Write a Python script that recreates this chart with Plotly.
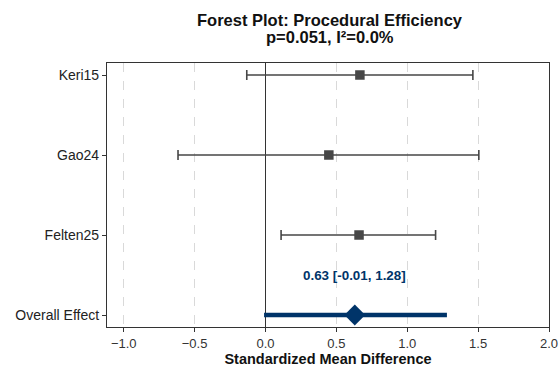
import plotly.graph_objects as go

studies = ["Keri15", "Gao24", "Felten25"]
smd = [0.666, 0.447, 0.660]
ci_low = [-0.132, -0.617, 0.110]
ci_high = [1.463, 1.505, 1.200]

overall_label = "Overall Effect"
overall_est = 0.63
overall_low = -0.01
overall_high = 1.28

title_line1 = "Forest Plot: Procedural Efficiency"
title_line2 = "p=0.051, I\u00b2=0.0%"

y_labels = [overall_label, "Felten25", "Gao24", "Keri15"]
y_pos = {lab: i for i, lab in enumerate(y_labels)}

x_ticks = [-1.0, -0.5, 0.0, 0.5, 1.0, 1.5, 2.0]
x_ticktext = ["\u22121.0", "\u22120.5", "0.0", "0.5", "1.0", "1.5", "2.0"]

gray = "#474747"
navy = "#003469"
font = "Liberation Sans, Arial, sans-serif"

fig = go.Figure()

sy = [y_pos[s] for s in studies]
fig.add_trace(go.Scatter(
    x=smd, y=sy, mode="markers",
    marker=dict(symbol="square", size=9.5, color=gray),
    error_x=dict(type="data", symmetric=False,
                 array=[h - m for h, m in zip(ci_high, smd)],
                 arrayminus=[m - l for m, l in zip(smd, ci_low)],
                 color=gray, thickness=1.6, width=5),
    showlegend=False, hoverinfo="skip"))

oy = y_pos[overall_label]
fig.add_trace(go.Scatter(
    x=[overall_low, overall_high], y=[oy, oy], mode="lines",
    line=dict(color=navy, width=4.5), showlegend=False, hoverinfo="skip"))
fig.add_trace(go.Scatter(
    x=[overall_est], y=[oy], mode="markers",
    marker=dict(symbol="diamond", size=16, color=navy),
    showlegend=False, hoverinfo="skip"))

fig.add_annotation(
    x=overall_est, y=oy + 0.5, xref="x", yref="y",
    text=f"<b>{overall_est:.2f} [{overall_low:.2f}, {overall_high:.2f}]</b>",
    showarrow=False, font=dict(family=font, size=13.4, color=navy))

fig.add_annotation(x=0.505, y=1.163, xref="paper", yref="paper",
                   text=f"<b>{title_line1}</b>", showarrow=False,
                   xanchor="center", yanchor="middle",
                   font=dict(family=font, size=16.5, color="#111111"))
fig.add_annotation(x=0.505, y=1.098, xref="paper", yref="paper",
                   text=f"<b>{title_line2}</b>", showarrow=False,
                   xanchor="center", yanchor="middle",
                   font=dict(family=font, size=16.5, color="#111111"))

fig.update_layout(
    width=559, height=368,
    margin=dict(l=107, r=10, t=63, b=41),
    paper_bgcolor="white", plot_bgcolor="white",
    font=dict(family=font, size=12, color="#1a1a1a"),
    xaxis=dict(range=[-1.118, 2.0], tickvals=x_ticks, ticktext=x_ticktext,
               automargin=False, ticklabeloverflow="allow",
               showgrid=True, gridcolor="#d9d9d9", griddash="dash", gridwidth=1,
               zeroline=True, zerolinecolor="#333333", zerolinewidth=1.3,
               showline=True, linecolor="#333333", linewidth=1.2,
               mirror=True, ticks="outside", ticklen=4, tickcolor="#333333",
               tickfont=dict(family=font, size=13, color="#333333"),
               title=dict(text="<b>Standardized Mean Difference</b>", standoff=4,
                          font=dict(family=font, size=14.5, color="#111111"))),
    yaxis=dict(range=[-0.15, 3.15], tickvals=list(range(len(y_labels))),
               ticktext=y_labels, showgrid=False, zeroline=False, automargin=False,
               showline=True, linecolor="#333333", linewidth=1.2, mirror=True,
               ticks="outside", ticklen=4, tickcolor="#333333",
               tickfont=dict(family=font, size=14, color="#222222")),
)

fig.write_html("out.html",
               config={"displayModeBar": False},
               post_script="document.body.style.margin='0';"
                           "document.body.style.overflow='hidden';")
